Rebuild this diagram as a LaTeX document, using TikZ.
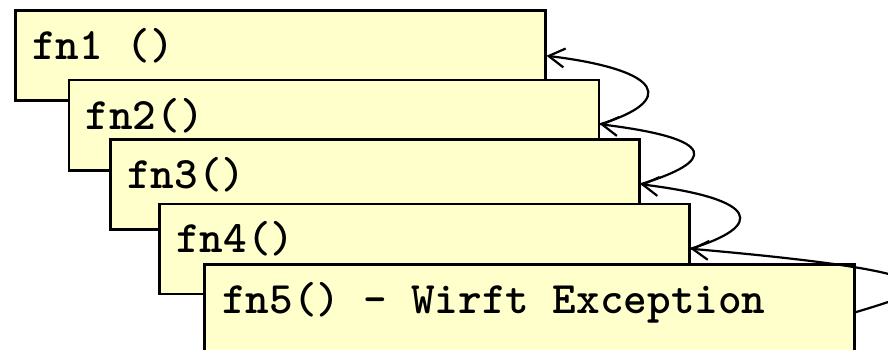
\documentclass[tikz,border=0pt]{standalone}
\usetikzlibrary{arrows.meta}
\begin{document}
\begin{tikzpicture}[x=1pt,y=1pt,
  fnbox/.style={draw=black, line width=2.5pt, fill=fnfill, rectangle,
    anchor=north west, inner sep=0pt, minimum height=90pt},
  fnlabel/.style={anchor=base west, inner sep=0pt,
    font=\ttfamily\bfseries\fontsize{45}{50}\selectfont},
  retarrow/.style={draw=black, line width=2.2pt,
    -{Straight Barb[length=16pt, width=19pt, line width=2.2pt]}}
]
\definecolor{fnfill}{HTML}{FFFFCC}
\useasboundingbox (0,0) rectangle (888,-350);
\clip (0,0) rectangle (888,-350);

% stacked call frames, each one partly covering the previous
\node[fnbox, minimum width=530pt] (b1) at (14,-9.5) {};
\node[fnlabel] (t1) at ([shift={(18pt,-50pt)}]b1.north west) {fn1 ()};
\node[fnbox, minimum width=530pt] (b2) at (67.5,-79) {};
\node[fnlabel] (t2) at ([shift={(18pt,-50pt)}]b2.north west) {fn2()};
\node[fnbox, minimum width=529pt] (b3) at (109,-138) {};
\node[fnlabel] (t3) at ([shift={(18pt,-50pt)}]b3.north west) {fn3()};
\node[fnbox, minimum width=530pt] (b4) at (158,-202.5) {};
\node[fnlabel] (t4) at ([shift={(18pt,-50pt)}]b4.north west) {fn4()};
\node[fnbox, minimum width=650pt, minimum height=96pt] (b5) at (203,-263) {};
\node[fnlabel] (t5) at ([shift={(19pt,-50pt)}]b5.north west) {fn5() - Wirft Exception};

% return paths back up the call stack
\draw[retarrow] ([yshift=1pt]b2.east) to[out=17, in=-7, out distance=78pt, in distance=121pt] (b1.east);
\draw[retarrow] (b3.east) to[out=17, in=-7, out distance=78pt, in distance=121pt] ([yshift=1pt]b2.east);
\draw[retarrow] (b4.east) to[out=17, in=-7, out distance=78pt, in distance=121pt] (b3.east);
\draw[retarrow] (b5.east) to[out=17, in=-5, out distance=70pt, in distance=300pt] (b4.east);
\end{tikzpicture}
\end{document}
